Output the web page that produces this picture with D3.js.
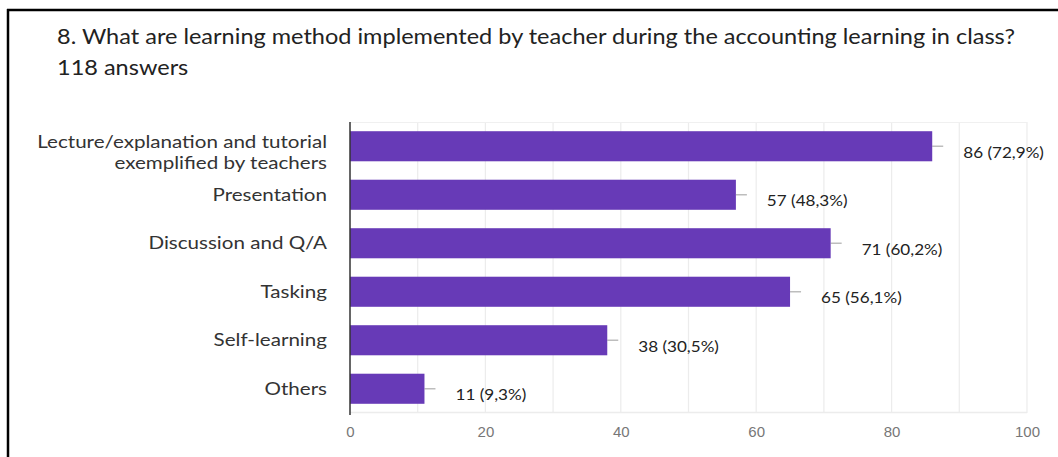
<!DOCTYPE html>
<html><head><meta charset="utf-8">
<script src="https://cdn.jsdelivr.net/npm/d3@7/dist/d3.min.js"></script>
<style>body{margin:0;background:#fff;overflow:hidden}</style></head>
<body><svg id="c" width="1058" height="457"></svg>
<script>
const titleText = "8. What are learning method implemented by teacher during the accounting learning in class?";
const subtitleText = "118 answers";
const categories = [
  ["Lecture/explanation and tutorial", "exemplified by teachers"],
  ["Presentation"],
  ["Discussion and Q/A"],
  ["Tasking"],
  ["Self-learning"],
  ["Others"]
];
const counts = [86, 57, 71, 65, 38, 11];
const valueLabels = ["86 (72,9%)", "57 (48,3%)", "71 (60,2%)", "65 (56,1%)", "38 (30,5%)", "11 (9,3%)"];
const tickValues = [0, 20, 40, 60, 80, 100];
const gridValues = [10, 20, 30, 40, 50, 60, 70, 80, 90, 100];

const svg = d3.select("#c");
const font = "Lato, 'Open Sans', sans-serif";
const keys = categories.map(c => c.join(" "));
const data = keys.map((k, i) => ({key: k, lines: categories[i], v: counts[i], label: valueLabels[i]}));

const x = d3.scaleLinear().domain([0, 100]).range([350, 1027]);
const y = d3.scaleBand().domain(keys).range([122, 413]).paddingInner(0.38).paddingOuter(0.19);

// frame
svg.append("line").attr("x1", 8).attr("x2", 8).attr("y1", 9).attr("y2", 457).attr("stroke", "#000").attr("stroke-width", 2.5);
svg.append("line").attr("x1", 7).attr("x2", 1058).attr("y1", 10).attr("y2", 10).attr("stroke", "#000").attr("stroke-width", 2.5);

// title
const title = svg.append("text").attr("x", 57).attr("y", 44).attr("font-family", font)
  .attr("font-size", 22).attr("fill", "#222").text(titleText);
const natural = title.node().getComputedTextLength();
const squeeze = 958 / natural;
function condense(sel, f) {
  sel.each(function() {
    const w = this.getComputedTextLength();
    d3.select(this).attr("textLength", w * f).attr("lengthAdjust", "spacingAndGlyphs");
  });
}
condense(title, squeeze);
const sub = svg.append("text").attr("x", 57).attr("y", 75).attr("font-family", font)
  .attr("font-size", 22).attr("fill", "#222").text(subtitleText);
condense(sub, squeeze);

// grid
const g = svg.append("g");
g.selectAll("line.grid").data(gridValues).join("line").attr("class", "grid")
  .attr("x1", d => x(d)).attr("x2", d => x(d)).attr("y1", 122).attr("y2", 413)
  .attr("stroke", "#ececec").attr("stroke-width", 1.2);
g.append("line").attr("x1", x(0)).attr("x2", x(100)).attr("y1", 122.5).attr("y2", 122.5).attr("stroke", "#f0f0f0");
g.append("line").attr("x1", x(0)).attr("x2", x(100)).attr("y1", 412.5).attr("y2", 412.5).attr("stroke", "#ececec").attr("stroke-width", 1.5);

// whiskers
g.selectAll("line.wh").data(data).join("line").attr("class", "wh")
  .attr("x1", d => x(d.v)).attr("x2", d => x(d.v) + 11)
  .attr("y1", d => y(d.key) + y.bandwidth() / 2).attr("y2", d => y(d.key) + y.bandwidth() / 2)
  .attr("stroke", "#bdbdbd").attr("stroke-width", 1.5);

// bars
g.selectAll("rect.bar").data(data).join("rect").attr("class", "bar")
  .attr("x", x(0)).attr("y", d => y(d.key)).attr("width", d => x(d.v) - x(0)).attr("height", y.bandwidth())
  .attr("fill", "#673ab7");

// axis line
g.append("line").attr("x1", x(0)).attr("x2", x(0)).attr("y1", 122).attr("y2", 415)
  .attr("stroke", "#333").attr("stroke-width", 1.5);

// value labels
const vl = g.selectAll("text.val").data(data).join("text").attr("class", "val")
  .attr("x", d => x(d.v) + 31).attr("y", d => y(d.key) + y.bandwidth() / 2 + 6)
  .attr("dy", "0.35em").attr("font-family", font).attr("font-size", 16).attr("fill", "#222")
  .text(d => d.label);
condense(vl, squeeze);

// category labels
const labelSize = 17.5;
const cl = g.selectAll("g.cat").data(data).join("g").attr("class", "cat");
cl.each(function(d) {
  const c = y(d.key) + y.bandwidth() / 2;
  const n = d.lines.length;
  d3.select(this).selectAll("text").data(d.lines).join("text")
    .attr("x", 327).attr("text-anchor", "end")
    .attr("y", (l, j) => n === 1 ? c : c - 4 + j * 21)
    .attr("dy", "0.35em").attr("font-family", font).attr("font-size", labelSize).attr("fill", "#333")
    .text(l => l);
});
condense(cl.selectAll("text"), squeeze * 1.1);

// x axis tick labels
const xAxis = d3.axisBottom(x).tickValues(tickValues).tickSize(0).tickPadding(0);
const ax = svg.append("g").attr("transform", "translate(0,426)").call(xAxis);
ax.select(".domain").remove();
ax.selectAll("text").attr("font-family", "'Liberation Sans', Arial, sans-serif").attr("font-size", 15).attr("fill", "#777");
</script></body></html>
